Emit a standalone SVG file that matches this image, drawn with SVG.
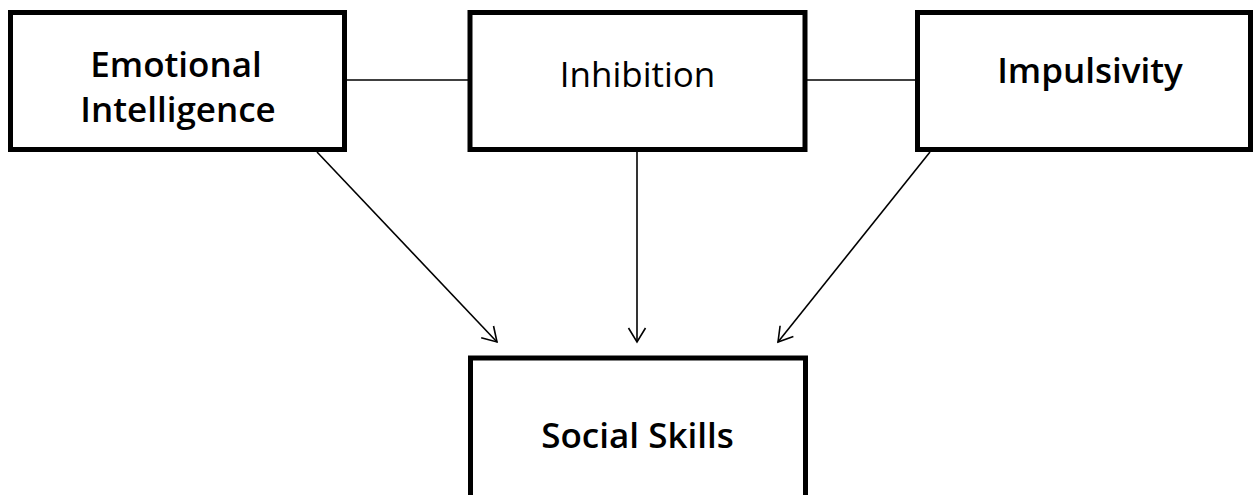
<svg xmlns="http://www.w3.org/2000/svg" width="1259" height="495" viewBox="0 0 1259 495">
<style>
.box{fill:#fff;stroke:#000;stroke-width:5}
.t{font-family:"Open Sans","Liberation Sans",sans-serif;font-size:35px;fill:#000;text-anchor:middle}
.b{font-weight:600}
.r{font-weight:400;font-size:35px}
.c{stroke:#000;stroke-width:1.6;fill:none}
</style>
<defs>
<marker id="ah" markerUnits="userSpaceOnUse" markerWidth="24" markerHeight="24" viewBox="-20 -12 24 24" refX="0" refY="0" orient="auto" overflow="visible">
<path d="M-14,-8.5 L0,0 L-14,8.5" fill="none" stroke="#000" stroke-width="1.6"/>
</marker>
</defs>
<rect width="1259" height="495" fill="#fff"/>
<g id="connectors">
<line class="c" x1="347" y1="80" x2="468" y2="80"/>
<line class="c" x1="807" y1="80" x2="915" y2="80"/>
<line class="c" x1="317" y1="152" x2="497" y2="342" marker-end="url(#ah)"/>
<line class="c" x1="637" y1="152" x2="637" y2="342" marker-end="url(#ah)"/>
<line class="c" x1="930" y1="152" x2="778" y2="342" marker-end="url(#ah)"/>
</g>
<g id="emotional-intelligence">
<rect class="box" x="10.5" y="12.5" width="334" height="137"/>
<text class="t b" x="176" y="77">Emotional</text>
<text class="t b" x="178" y="122">Intelligence</text>
</g>
<g id="inhibition">
<rect class="box" x="470" y="12.5" width="335" height="137"/>
<text class="t r" x="637.5" y="87">Inhibition</text>
</g>
<g id="impulsivity">
<rect class="box" x="917.5" y="12.5" width="333" height="137"/>
<text class="t b" x="1090" y="83">Impulsivity</text>
</g>
<g id="social-skills">
<rect class="box" x="470.5" y="358" width="335" height="160"/>
<text class="t b" x="637.5" y="448">Social Skills</text>
</g>
</svg>
